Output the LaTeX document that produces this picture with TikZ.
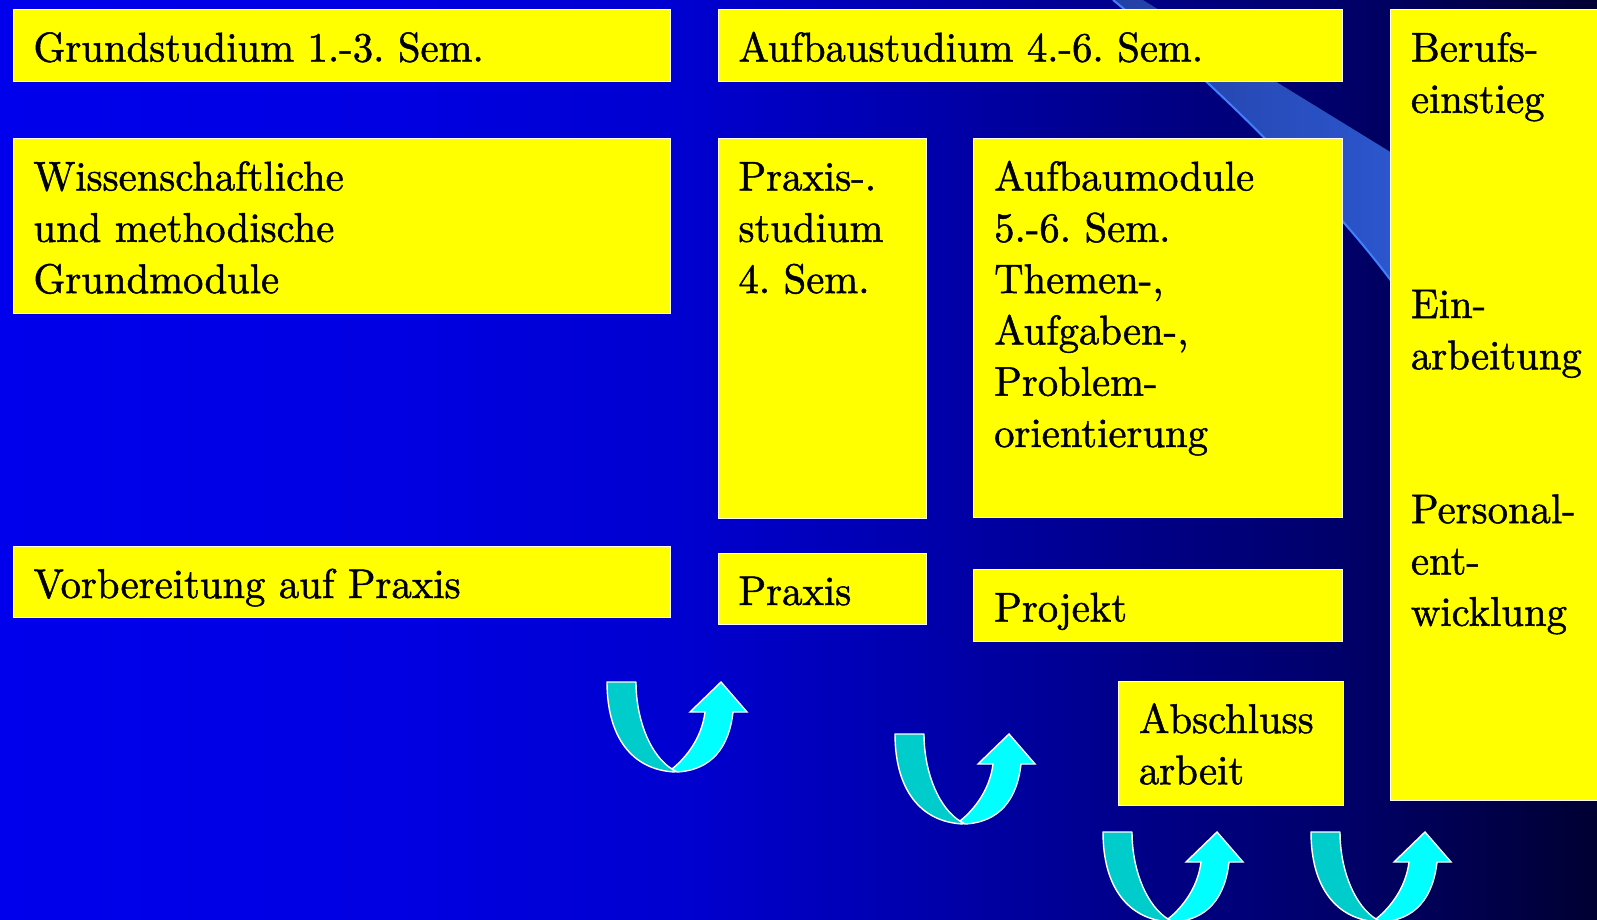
\documentclass[tikz,border=0pt]{standalone}
\usepackage{fontspec}
\newfontfamily\tnrfont{lmroman10-regular.otf}[FakeBold=1.2, FakeStretch=0.98]
\usetikzlibrary{calc}
\definecolor{boxyellow}{RGB}{255,255,0}
\definecolor{arrowdark}{RGB}{0,204,204}
\definecolor{arrowlight}{RGB}{0,255,255}
\definecolor{bandA}{RGB}{34,64,164}
\definecolor{bandB}{RGB}{44,86,206}
\definecolor{bandedge}{RGB}{64,128,255}
\definecolor{bgc0}{RGB}{0,0,236}
\definecolor{bgc1}{RGB}{0,0,226}
\definecolor{bgc2}{RGB}{0,0,206}
\definecolor{bgc3}{RGB}{0,0,168}
\definecolor{bgc4}{RGB}{0,0,134}
\definecolor{bgc5}{RGB}{0,0,104}
\definecolor{bgc6}{RGB}{0,0,50}
\newcommand\boxlines[1]{\parbox[t]{600pt}{\raggedright\frenchspacing #1}}
\tikzset{
  uturn/.pic={
    \filldraw[fill=arrowdark, draw=white, line width=1.4pt, line join=round]
      (0,0) -- (29,0) .. controls (29,40) and (45,75) .. (65,87) -- (68,90)
      .. controls (25,88) and (0,55) .. (0,0) -- cycle;
    \filldraw[fill=arrowlight, draw=white, line width=1.4pt, line join=miter]
      (65,87) .. controls (80,75) and (95,55) .. (98,30) -- (83,30) -- (114,0)
      -- (140,30) -- (126,30) .. controls (122,65) and (105,88) .. (70,90) -- cycle;
  }
}
\begin{document}
\begin{tikzpicture}[x=1pt,y=-1pt,
  box/.style={draw=white, line width=0.9pt, fill=boxyellow, inner sep=0pt, outer sep=0pt, anchor=north west},
  txt/.style={anchor=base west, inner sep=0pt, outer sep=0pt, text=black, font=\tnrfont\fontsize{41.5}{51.3}\selectfont}]
\useasboundingbox (0,0) rectangle (1597,920);
\clip (0,0) rectangle (1597,920);
% background
\foreach \xa/\xb/\ca/\cb in {0/400/bgc0/bgc1, 400/700/bgc1/bgc2, 700/950/bgc2/bgc3, 950/1150/bgc3/bgc4, 1150/1350/bgc4/bgc5, 1350/1597/bgc5/bgc6}
  \shade[left color=\ca, right color=\cb] (\xa-0.6,-1) rectangle (\xb+0.6,921);
% light band
\fill[left color=bandA, right color=bandB] (1113,0) .. controls (1190,62) and (1320,185) .. (1392,282) -- (1392,153) -- (1143,0) -- cycle;
\draw[bandedge, line width=2pt] (1113,0) .. controls (1190,62) and (1320,185) .. (1392,282);
% boxes
\node[box, minimum width=657pt, minimum height=72pt] (grund) at (13,9.5) {};
\node[box, minimum width=624.5pt, minimum height=72pt] (aufbau) at (718,9.5) {};
\node[box, minimum width=215pt, minimum height=790.5pt] (beruf) at (1390,9.5) {};
\node[box, minimum width=657pt, minimum height=175pt] (wiss) at (13,138.5) {};
\node[box, minimum width=208.5pt, minimum height=379.5pt] (pstud) at (718,138.5) {};
\node[box, minimum width=369pt, minimum height=379pt] (amod) at (973.7,138.5) {};
\node[box, minimum width=657pt, minimum height=71pt] (vorb) at (13,546) {};
\node[box, minimum width=208.5pt, minimum height=71pt] (praxis) at (718,553) {};
\node[box, minimum width=369pt, minimum height=72pt] (projekt) at (973.7,569.5) {};
\node[box, minimum width=225pt, minimum height=124.5pt] (abschl) at (1118,681) {};
% texts
\node[txt] (tgrund) at ($(grund.north west)+(20.5,52)$) {\boxlines{Grundstudium 1.-3. Sem.}};
\node[txt] (taufbau) at ($(aufbau.north west)+(20.5,52)$) {\boxlines{Aufbaustudium 4.-6. Sem.}};
\node[txt] (tberuf1) at ($(beruf.north west)+(21,52)$) {\boxlines{Berufs-\\einstieg}};
\node[txt] (tberuf2) at ($(beruf.north west)+(21,308.5)$) {\boxlines{Ein-\\arbeitung}};
\node[txt] (tberuf3) at ($(beruf.north west)+(21,513.7)$) {\boxlines{Personal-\\ent-\\wicklung}};
\node[txt] (twiss) at ($(wiss.north west)+(20.5,52)$) {\boxlines{Wissenschaftliche\\und methodische\\Grundmodule}};
\node[txt] (tpstud) at ($(pstud.north west)+(20.5,52)$) {\boxlines{Praxis-.\\studium\\4. Sem.}};
\node[txt] (tamod) at ($(amod.north west)+(20.5,52)$) {\boxlines{Aufbaumodule\\5.-6. Sem.\\Themen-,\\Aufgaben-,\\Problem-\\orientierung}};
\node[txt] (tvorb) at ($(vorb.north west)+(20.5,52)$) {\boxlines{Vorbereitung auf Praxis}};
\node[txt] (tpraxis) at ($(praxis.north west)+(20.5,52)$) {\boxlines{Praxis}};
\node[txt] (tprojekt) at ($(projekt.north west)+(20.5,52)$) {\boxlines{Projekt}};
\node[txt] (tabschl) at ($(abschl.north west)+(21,52)$) {\boxlines{Abschluss\\arbeit}};
% u-turn arrows
\pic (ua) at (607,682) {uturn};
\pic (ub) at (895,734) {uturn};
\pic (uc) at (1103,832) {uturn};
\pic (ud) at (1311,832) {uturn};
\end{tikzpicture}
\end{document}
